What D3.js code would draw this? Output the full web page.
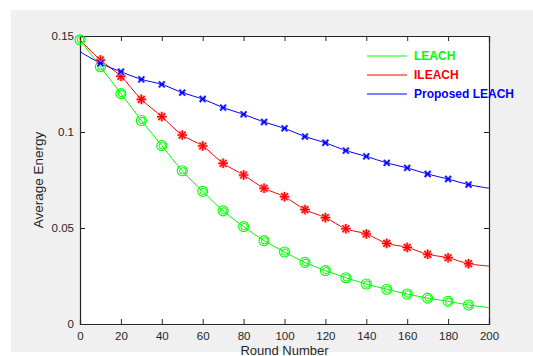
<!DOCTYPE html>
<html><head><meta charset="utf-8">
<script src="https://cdn.jsdelivr.net/npm/d3@7"></script>
<style>
html,body{margin:0;padding:0;background:#fff;}
svg{display:block;font-family:"Liberation Sans",Arial,sans-serif;}
</style></head>
<body>
<svg id="chart" width="533" height="356"></svg>
<script>
const rounds = [0,10,20,30,40,50,60,70,80,90,100,110,120,130,140,150,160,170,180,190,200];
const leach = [0.148,0.134,0.120,0.106,0.0929,0.0798,0.0691,0.0589,0.0507,0.0434,0.0375,0.0321,0.0278,0.0241,0.0208,0.0181,0.0156,0.0135,0.0118,0.0099,0.0085];
const ileach = [0.148,0.1375,0.129,0.117,0.108,0.0984,0.0927,0.0837,0.0776,0.0707,0.0663,0.0596,0.0554,0.0496,0.0469,0.0420,0.0399,0.0363,0.0345,0.0314,0.0302];
const proposed = [0.1418,0.1358,0.1314,0.1274,0.1248,0.1205,0.1172,0.1127,0.1092,0.1052,0.1019,0.0976,0.0944,0.0903,0.0873,0.0839,0.0813,0.0781,0.0755,0.0726,0.0707];
const seriesNames = ["LEACH","ILEACH","Proposed LEACH"];
const xTicks = [0,20,40,60,80,100,120,140,160,180,200];
const yTicks = [0,0.05,0.1,0.15];
const yTickLabels = ["0","0.05","0.1","0.15"];

const svg = d3.select("#chart");
const W = 533, H = 356;
const m = {left:80, top:36, right:44, bottom:32};
const x = d3.scaleLinear().domain([0,200]).range([m.left, W - m.right]);
const y = d3.scaleLinear().domain([0,0.15]).range([H - m.bottom, m.top]);

// figure background
svg.append("rect").attr("x",11).attr("y",10).attr("width",W-11).attr("height",342).attr("fill","#f0f0f0");
svg.append("rect").attr("x",x(0)).attr("y",y(0.15)).attr("width",x(200)-x(0)).attr("height",y(0)-y(0.15)).attr("fill","#ffffff");

const axisColor = "#262626";
const fmt = d => yTickLabels[yTicks.indexOf(d)];

// axes
const gx = svg.append("g").attr("transform",`translate(0,${y(0)})`)
  .call(d3.axisBottom(x).tickValues(xTicks).tickSize(-5).tickPadding(8).tickFormat(d3.format("d")));
const gy = svg.append("g").attr("transform",`translate(${x(0)},0)`)
  .call(d3.axisLeft(y).tickValues(yTicks).tickSize(-5).tickPadding(6).tickFormat(fmt));
const gxt = svg.append("g").attr("transform",`translate(0,${y(0.15)})`)
  .call(d3.axisTop(x).tickValues(xTicks).tickSize(-5).tickFormat(""));
const gyr = svg.append("g").attr("transform",`translate(${x(200)},0)`)
  .call(d3.axisRight(y).tickValues(yTicks).tickSize(-5).tickFormat(""));
[gx,gy,gxt,gyr].forEach(g=>{
  g.select(".domain").attr("stroke",axisColor).attr("stroke-width",1.2);
  g.selectAll(".tick line").attr("stroke",axisColor);
  g.selectAll(".tick text").attr("fill",axisColor).style("font-size","11.5px").style("font-family","'Liberation Sans',Arial,sans-serif");
});

// axis labels
svg.append("text").attr("x",x(100)).attr("y",354.5).attr("text-anchor","middle")
  .attr("fill",axisColor).style("font-size","13px").text("Round Number");
svg.append("text").attr("transform",`translate(43,${(y(0)+y(0.15))/2}) rotate(-90)`)
  .attr("text-anchor","middle").attr("fill",axisColor).style("font-size","13.5px").text("Average Energy");

const plot = svg.append("g");
const line = d3.line().x((d,i)=>x(rounds[i])).y(d=>y(d)).curve(d3.curveCatmullRom.alpha(0.5));

const series = [
  {name:seriesNames[0], vals:leach, color:"#00ff00", halo:"#b8ffb8", marker:"circle", start:0},
  {name:seriesNames[1], vals:ileach, color:"#ff0000", halo:"#ff9a9a", marker:"star", start:1},
  {name:seriesNames[2], vals:proposed, color:"#0000ff", halo:"#9a9aff", marker:"xstar", start:1}
];

series.forEach(s=>{
  plot.append("path").datum(s.vals).attr("d",line).attr("fill","none").attr("stroke",s.color).attr("stroke-width",1);
});

function drawMarker(g, s, cx, cy){
  if(s.marker==="circle"){
    g.append("circle").attr("cx",cx).attr("cy",cy).attr("r",5).attr("fill","none").attr("stroke",s.color).attr("stroke-width",1.1);
    g.append("circle").attr("cx",cx+0.5).attr("cy",cy).attr("r",3.2).attr("fill","none").attr("stroke",s.color).attr("stroke-width",1);
  } else {
    const r = s.marker==="star" ? 4.8 : 4.2;
    const angles = s.marker==="star" ? [0,45,90,135] : [45,135,0];
    [[s.halo,2.8],[s.color,1.3]].forEach(([c,w])=>{
      angles.forEach(a=>{
        const rad = a*Math.PI/180;
        const rr = (a===0 && s.marker==="xstar") ? r*0.6 : r;
        g.append("line")
          .attr("x1",cx-rr*Math.cos(rad)).attr("y1",cy-rr*Math.sin(rad))
          .attr("x2",cx+rr*Math.cos(rad)).attr("y2",cy+rr*Math.sin(rad))
          .attr("stroke",c).attr("stroke-width",w);
      });
    });
  }
}

series.forEach(s=>{
  const g = plot.append("g");
  s.vals.forEach((v,i)=>{
    if(i < s.start || rounds[i] >= 200) return;
    drawMarker(g, s, x(rounds[i]), y(v));
  });
});

// legend
const legY = [56,75,94];
series.forEach((s,i)=>{
  svg.append("line").attr("x1",367).attr("x2",407).attr("y1",legY[i]).attr("y2",legY[i])
    .attr("stroke",s.color).attr("stroke-width",1);
  svg.append("text").attr("x",414).attr("y",legY[i]+4.3).attr("fill",s.color)
    .style("font-size","12px").style("font-weight","bold").text(s.name);
});
</script>
</body></html>
